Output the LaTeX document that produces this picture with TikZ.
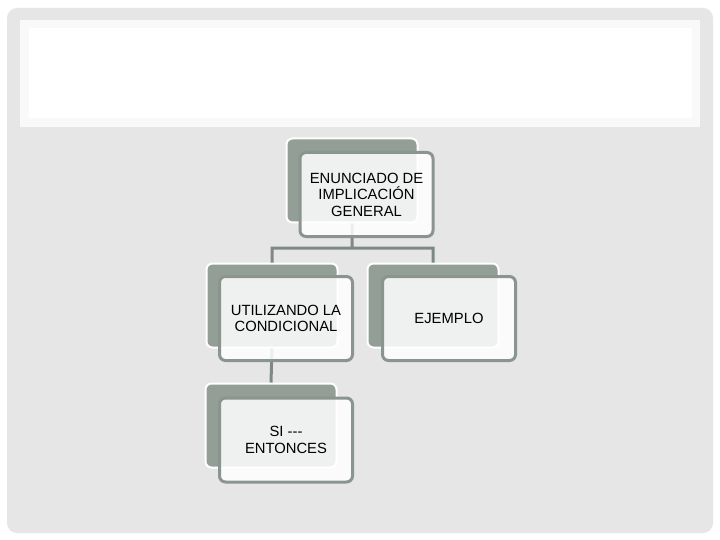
\documentclass[tikz,border=0pt]{standalone}
\usepackage{fontspec}
\setmainfont{Liberation Sans}
\usetikzlibrary{positioning}
\definecolor{backgreen}{HTML}{939E97}
\definecolor{framegreen}{HTML}{8A958F}
\definecolor{linegreen}{HTML}{7D8A84}
\definecolor{slidegray}{HTML}{E6E6E6}
\tikzset{
  backbox/.style={draw=white, line width=2pt, fill=backgreen, rounded corners=6pt,
    minimum width=131pt, minimum height=84pt, inner sep=0pt},
  frontbox/.style={draw=framegreen, line width=3pt, fill=white, fill opacity=0.86,
    text opacity=1, rounded corners=6pt, minimum width=133pt, minimum height=84pt,
    align=center, font=\fontsize{14.8}{16.5}\selectfont},
  link/.style={draw=linegreen, line width=3pt}
}
\begin{document}
\begin{tikzpicture}[x=1pt,y=-1pt]
 \useasboundingbox (0,0) rectangle (720,540);
 % slide background
 \fill[white] (0,0) rectangle (720,540);
 \fill[slidegray, rounded corners=10pt] (7,8) rectangle (713,533);
 \fill[white!95!gray] (20,20) rectangle (700,127);
 \fill[white] (29,28) rectangle (692,118);
 % back boxes
 \node[backbox] (gen) at (352,180.5) {};
 \node[backbox] (util) at (272,305.5) {};
 \node[backbox] (ejem) at (433,305.5) {};
 \node[backbox] (si) at (271,425.5) {};
 % connectors
 \coordinate (fork) at (352,248);
 \path[link]
  (gen.south) -- (fork)
  (util.north) |- (fork) -| (ejem.north)
  (util.south) -- (si.north);
 % front boxes
 \node[frontbox] (gen-f) at ([shift={(14.5,14)}]gen.center) {ENUNCIADO DE\\IMPLICACIÓN\\GENERAL};
 \node[frontbox] (util-f) at ([shift={(14,13)}]util.center) {UTILIZANDO LA\\CONDICIONAL};
 \node[frontbox] (ejem-f) at ([shift={(16,13)}]ejem.center) {EJEMPLO};
 \node[frontbox] (si-f) at ([shift={(15,14.5)}]si.center) {SI {-}{-}{-}\\ENTONCES};
\end{tikzpicture}
\end{document}
